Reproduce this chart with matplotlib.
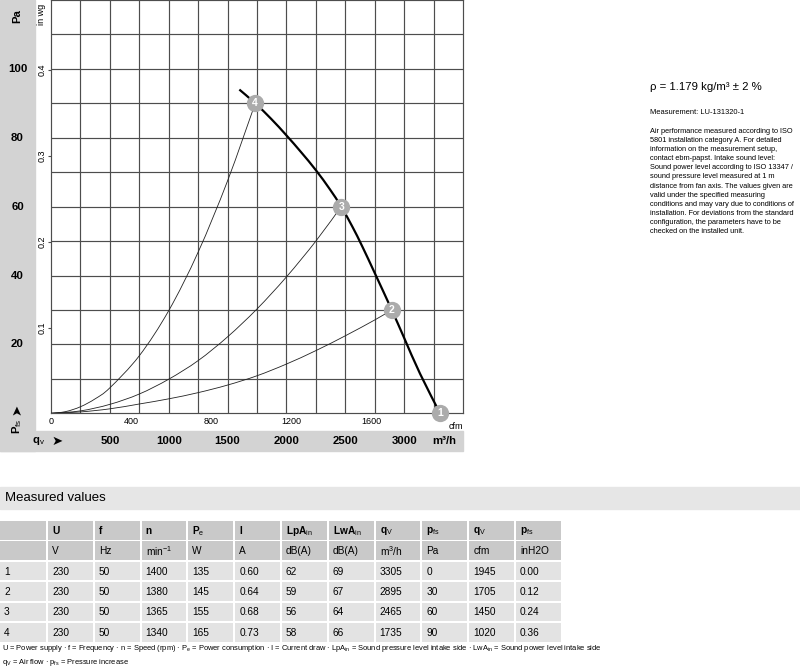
import matplotlib
matplotlib.use("Agg")
import matplotlib.pyplot as plt
from matplotlib.patches import Rectangle, PathPatch
from matplotlib.path import Path
from matplotlib import transforms
import numpy as np

plt.rcParams['font.family'] = ['Liberation Sans', 'DejaVu Sans']
plt.rcParams['mathtext.fontset'] = 'custom'
plt.rcParams['mathtext.rm'] = 'Liberation Sans'
plt.rcParams['mathtext.bf'] = 'Liberation Sans:bold'
plt.rcParams['mathtext.it'] = 'Liberation Sans:italic'

# fan curve (m3/h, Pa)
fan_q = [1600, 1735, 1870, 2000, 2125, 2250, 2370, 2465, 2560, 2645, 2752, 2895, 3000, 3135, 3305]
fan_p = [94.0, 90.0, 85.5, 80.7, 75.8, 70.6, 65.0, 60.0, 54.2, 48.4, 40.6, 30.0, 21.9, 11.5, 0.0]

# system curves through the operating points
sys4_q = [0, 125, 250, 375, 500, 750, 1000, 1250, 1500, 1735]
sys4_p = [0, 0.5, 1.9, 4.2, 7.4, 16.7, 29.8, 46.8, 67.5, 90]
sys3_q = [0, 250, 500, 750, 1000, 1250, 1500, 1750, 2000, 2250, 2465]
sys3_p = [0, 0.7, 2.6, 5.6, 9.9, 15.3, 22.2, 30.3, 39.6, 50.0, 60]
sys2_q = [0, 250, 500, 750, 1000, 1250, 1500, 1750, 2000, 2250, 2500, 2750, 2895]
sys2_p = [0, 0.4, 1.3, 2.7, 4.2, 6.0, 8.2, 10.9, 14.3, 18.2, 22.5, 27.1, 30]

# operating points
op_id = ['1', '2', '3', '4']
op_q = [3305, 2895, 2465, 1735]
op_p = [0, 30, 60, 90]

# axis ticks
pa_ticks = [20, 40, 60, 80, 100]
m3h_ticks = [500, 1000, 1500, 2000, 2500, 3000]
cfm_ticks = [0, 400, 800, 1200, 1600]
inwg_ticks = [0.1, 0.2, 0.3, 0.4]
CFM = 1.699      # m3/h per cfm
INWG = 249.09    # Pa per in wg

# table
col_head = ['', 'U', 'f', 'n', 'P$_\\mathrm{e}$', 'I', 'LpA$_\\mathrm{in}$', 'LwA$_\\mathrm{in}$',
            'q$_\\mathrm{V}$', 'p$_\\mathrm{fs}$', 'q$_\\mathrm{V}$', 'p$_\\mathrm{fs}$']
col_unit = ['', 'V', 'Hz', 'min$^\\mathrm{-1}$', 'W', 'A', 'dB(A)', 'dB(A)', 'm$^\\mathrm{3}$/h', 'Pa', 'cfm', 'inH2O']
tab_U = ['230', '230', '230', '230']
tab_f = ['50', '50', '50', '50']
tab_n = ['1400', '1380', '1365', '1340']
tab_Pe = ['135', '145', '155', '165']
tab_I = ['0.60', '0.64', '0.68', '0.73']
tab_LpA = ['62', '59', '56', '58']
tab_LwA = ['69', '67', '64', '66']
tab_qm3 = ['3305', '2895', '2465', '1735']
tab_pPa = ['0', '30', '60', '90']
tab_qcfm = ['1945', '1705', '1450', '1020']
tab_pin = ['0.00', '0.12', '0.24', '0.36']

W, H = 800, 671
def fx(x):
    return x / W
def fy(y):
    return 1 - y / H


def smooth(xs, ys):
    # catmull-rom through the read points, as bezier segments
    pts = np.column_stack([xs, ys]).astype(float)
    n = len(pts)
    verts = [pts[0]]
    codes = [Path.MOVETO]
    for i in range(n - 1):
        p0 = pts[i - 1] if i > 0 else pts[i]
        p1, p2 = pts[i], pts[i + 1]
        p3 = pts[i + 2] if i + 2 < n else pts[i + 1]
        verts += [p1 + (p2 - p0) / 6, p2 - (p3 - p1) / 6, p2]
        codes += [Path.CURVE4] * 3
    return Path(verts, codes)


fig = plt.figure(figsize=(8, 6.71), dpi=100)

band = '#d3d3d3'
fig.patches.append(Rectangle((0, fy(451)), fx(35), 1 - fy(451), transform=fig.transFigure,
                             color=band, zorder=0))
fig.patches.append(Rectangle((0, fy(451)), fx(463), fy(431) - fy(451), transform=fig.transFigure,
                             color=band, zorder=0))

ax = fig.add_axes([fx(51), fy(413.3), fx(412), 413.3 / H])
ax.set_xlim(0, 3500)
ax.set_ylim(0, 120)
gc = '#4d4d4d'
ax.set_xticks(np.arange(250, 3500, 250), minor=True)
ax.set_yticks(np.arange(10, 120, 10), minor=True)
ax.grid(which='minor', color=gc, lw=0.85)
for s in ax.spines.values():
    s.set_color(gc)
    s.set_linewidth(0.85)
ax.set_xticks([c * CFM for c in cfm_ticks])
ax.set_xticklabels([str(c) for c in cfm_ticks], fontsize=6.5)
ax.set_yticks([v * INWG for v in inwg_ticks])
ax.set_yticklabels([str(v) for v in inwg_ticks], fontsize=6.5, rotation=90, va='center')
ax.tick_params(axis='x', which='both', length=0, pad=2.5)
ax.tick_params(axis='y', which='major', length=2, pad=1, color=gc)
ax.tick_params(axis='y', which='minor', length=0)

for q, p in [(sys4_q, sys4_p), (sys3_q, sys3_p), (sys2_q, sys2_p)]:
    ax.add_patch(PathPatch(smooth(q, p), fill=False, edgecolor='#222222', lw=0.6, zorder=3))
ax.add_patch(PathPatch(smooth(fan_q, fan_p), fill=False, edgecolor='black', lw=1.6, zorder=4,
                       capstyle='butt'))
ax.scatter(op_q, op_p, s=155, color='#ababab', zorder=5, clip_on=False, linewidths=0)
for i, q, p in zip(op_id, op_q, op_p):
    ax.text(q, p, i, color='white', fontsize=7.5, fontweight='bold', ha='center', va='center',
            zorder=6, clip_on=False)

ax.text(1.0, -0.02, 'cfm', transform=ax.transAxes, fontsize=6.5, ha='right', va='top')

# labels in grey bands
ty = transforms.blended_transform_factory(fig.transFigure, ax.transData)
for v in pa_ticks:
    fig.text(fx(17.5), v, str(v), transform=ty, fontsize=8.2, fontweight='bold', ha='center', va='center')
tx = transforms.blended_transform_factory(ax.transData, fig.transFigure)
for v in m3h_ticks:
    fig.text(v, fy(441), str(v), transform=tx, fontsize=8.2, fontweight='bold', ha='center', va='center')
fig.text(fx(444), fy(441), 'm³/h', fontsize=8.2, fontweight='bold', ha='center', va='center')
fig.text(fx(39), fy(441), 'q$_\\mathrm{v}$', fontsize=8.2, fontweight='bold', ha='center', va='center')
fig.text(fx(57), fy(441), '➤', fontsize=9.5, family='DejaVu Sans', ha='center', va='center')
fig.text(fx(17), fy(16), 'Pa', fontsize=8.2, fontweight='bold', rotation=90, ha='center', va='center')
fig.text(fx(17), fy(426), 'P$_\\mathrm{fs}$', fontsize=8.2, fontweight='bold', rotation=90, ha='center', va='center')
fig.text(fx(17), fy(409), '➤', fontsize=9.5, family='DejaVu Sans', rotation=90, ha='center', va='center')
fig.text(fx(42), fy(14), 'in wg', fontsize=6.5, rotation=90, ha='center', va='center')

# side notes
fig.text(fx(650), fy(87), 'ρ = 1.179 kg/m³ ± 2 %', fontsize=8.2, ha='left', va='center')
fig.text(fx(650), fy(113), 'Measurement: LU-131320-1', fontsize=5.4, ha='left', va='center')
note = ("Air performance measured according to ISO\n"
        "5801 installation category A. For detailed\n"
        "information on the measurement setup,\n"
        "contact ebm-papst. Intake sound level:\n"
        "Sound power level according to ISO 13347 /\n"
        "sound pressure level measured at 1 m\n"
        "distance from fan axis. The values given are\n"
        "valid under the specified measuring\n"
        "conditions and may vary due to conditions of\n"
        "installation. For deviations from the standard\n"
        "configuration, the parameters have to be\n"
        "checked on the installed unit.")
fig.text(fx(650), fy(128), note, fontsize=5.3, linespacing=1.42, ha='left', va='top')

# measured values
fig.patches.append(Rectangle((0, fy(509)), 1, fy(487) - fy(509), transform=fig.transFigure,
                             color='#e6e6e6', zorder=0))
fig.text(fx(5), fy(498), 'Measured values', fontsize=9.5, ha='left', va='center')

tab = fig.add_axes([0, fy(643), fx(563), (643 - 521) / H])
tab.set_xlim(0, 563)
tab.set_ylim(643, 521)
tab.axis('off')
body = [[str(i + 1) for i in range(4)], tab_U, tab_f, tab_n, tab_Pe, tab_I, tab_LpA, tab_LwA,
        tab_qm3, tab_pPa, tab_qcfm, tab_pin]
rows = [col_head, col_unit] + [[col[r] for col in body] for r in range(4)]
for r, row in enumerate(rows):
    top = 521 + r * 20.4
    for c, txt in enumerate(row):
        left = 0 if c == 0 else 48 + (c - 1) * 46.8
        w = 46 if c == 0 else 44.8
        fc = '#c9c9c9' if r < 2 else '#e3e3e3'
        tab.add_patch(Rectangle((left, top), w, 18.6, color=fc, lw=0))
        tab.text(left + 4, top + 9.8, txt, fontsize=7.3, ha='left', va='center',
                 fontweight='bold' if r == 0 else 'normal')

fig.text(fx(2), fy(649), 'U = Power supply · f = Frequency · n = Speed (rpm) · P$_\\mathrm{e}$ = Power consumption · '
         'I = Current draw · LpA$_\\mathrm{in}$ = Sound pressure level intake side · '
         'LwA$_\\mathrm{in}$ = Sound power level intake side', fontsize=5.4, ha='left', va='center')
fig.text(fx(2), fy(663), 'q$_\\mathrm{V}$ = Air flow · p$_\\mathrm{fs}$ = Pressure increase',
         fontsize=5.4, ha='left', va='center')

fig.savefig('out.png', dpi=100)
